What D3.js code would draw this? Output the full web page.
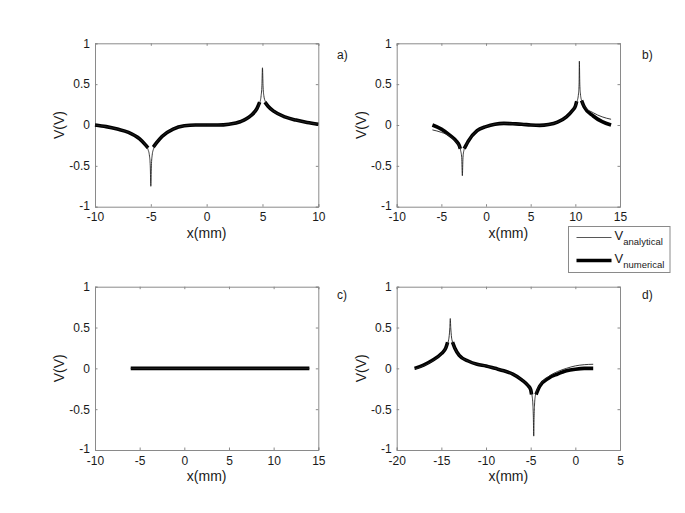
<!DOCTYPE html>
<html>
<head>
<meta charset="utf-8">
<script src="https://cdn.jsdelivr.net/npm/d3@7"></script>
<style>
  body { margin: 0; background: #fff; }
  text { font-family: "Liberation Sans", Arial, sans-serif; fill: #1a1a1a; }
  .domain { stroke: #8a8a8a; }
  .tick line { stroke: #8a8a8a; }
</style>
</head>
<body>
<div id="chart"></div>
<script>
// panel labels and x axis ranges
const panelNames = ["a)", "b)", "c)", "d)"];
const xDomains = [[-10, 10], [-10, 15], [-10, 15], [-20, 5]];
const yTicks = [-1, -0.5, 0, 0.5, 1];
const xTicks = [[-10, -5, 0, 5, 10], [-10, -5, 0, 5, 10, 15], [-10, -5, 0, 5, 10, 15], [-20, -15, -10, -5, 0, 5]];

// analytical potential (x in mm, V in volts)
const anaA = [[-10, 0], [-9, -0.02], [-8, -0.05], [-7, -0.09], [-6, -0.17], [-5.5, -0.24], [-5.25, -0.3], [-5.12, -0.38],
  [-5.05, -0.5], [-5, -0.75], [-4.95, -0.5], [-4.88, -0.37], [-4.75, -0.29], [-4.5, -0.22], [-4, -0.14], [-3, -0.05],
  [-2, -0.01], [-1, 0], [0, 0], [1, 0], [2, 0.01], [3, 0.04], [4, 0.12], [4.5, 0.2], [4.75, 0.27], [4.88, 0.36],
  [4.95, 0.48], [5, 0.7], [5.05, 0.48], [5.12, 0.36], [5.25, 0.29], [5.5, 0.23], [6, 0.17], [7, 0.1], [8, 0.06],
  [9, 0.03], [10, 0.01]];
const numA = [[-10, 0], [-9, -0.02], [-8, -0.05], [-7, -0.09], [-6, -0.17], [-5.5, -0.24], [-5.25, -0.28], null,
  [-4.78, -0.27], [-4.5, -0.22], [-4, -0.14], [-3, -0.05], [-2, -0.01], [-1, 0], [0, 0], [1, 0], [2, 0.01], [3, 0.04],
  [4, 0.12], [4.5, 0.2], [4.75, 0.28], null, [5.22, 0.28], [5.5, 0.23], [6, 0.17], [7, 0.1], [8, 0.06], [9, 0.03], [10, 0.01]];

const anaB = [[-6, -0.06], [-5, -0.09], [-4, -0.14], [-3.3, -0.21], [-3, -0.26], [-2.85, -0.31], [-2.72, -0.4],
  [-2.65, -0.62], [-2.58, -0.4], [-2.45, -0.3], [-2.2, -0.24], [-2, -0.2], [-1, -0.07], [0, -0.02], [1, 0.01], [2, 0.02],
  [3, 0.015], [4, 0.01], [5, 0], [6, -0.005], [7, 0.005], [8, 0.035], [9, 0.1], [9.7, 0.18], [10, 0.23], [10.2, 0.29],
  [10.35, 0.38], [10.42, 0.5], [10.45, 0.78], [10.5, 0.5], [10.57, 0.38], [10.7, 0.3], [11, 0.23], [12, 0.15],
  [13, 0.1], [14, 0.07]];
const numB = [[-6, 0], [-5, -0.05], [-4, -0.13], [-3.3, -0.2], [-3, -0.25], [-2.88, -0.29], null, [-2.45, -0.29],
  [-2.2, -0.24], [-2, -0.2], [-1, -0.07], [0, -0.02], [1, 0.01], [2, 0.02], [3, 0.015], [4, 0.01], [5, 0], [6, -0.005],
  [7, 0.005], [8, 0.035], [9, 0.1], [9.7, 0.18], [10, 0.23], [10.15, 0.29], null, [10.7, 0.3], [11, 0.22], [12, 0.11],
  [13, 0.04], [14, 0]];

const anaC = [[-6, 0], [14, 0]];
const numC = [[-6, 0], [14, 0]];

const anaD = [[-18, -0.01], [-17, 0.03], [-16, 0.09], [-15, 0.18], [-14.5, 0.25], [-14.25, 0.32], [-14.12, 0.4],
  [-14.05, 0.5], [-14, 0.61], [-13.95, 0.5], [-13.88, 0.4], [-13.75, 0.32], [-13.5, 0.25], [-13, 0.16], [-12, 0.09],
  [-11, 0.05], [-10, 0.03], [-9, 0], [-8, -0.03], [-7, -0.07], [-6, -0.14], [-5.3, -0.21], [-5, -0.26], [-4.85, -0.33],
  [-4.75, -0.45], [-4.7, -0.6], [-4.66, -0.83], [-4.62, -0.6], [-4.57, -0.45], [-4.47, -0.33], [-4.3, -0.27],
  [-4, -0.21], [-3, -0.1], [-2, -0.04], [-1, 0], [0, 0.03], [1, 0.045], [2, 0.05]];
const numD = [[-18, 0], [-17, 0.04], [-16, 0.1], [-15, 0.18], [-14.5, 0.25], [-14.3, 0.32], null, [-13.75, 0.32],
  [-13.5, 0.25], [-13, 0.16], [-12, 0.09], [-11, 0.05], [-10, 0.03], [-9, 0], [-8, -0.03], [-7, -0.07], [-6, -0.14],
  [-5.3, -0.21], [-5, -0.26], [-4.9, -0.32], null, [-4.4, -0.32], [-4, -0.22], [-3, -0.12], [-2, -0.07], [-1, -0.03],
  [0, -0.01], [1, 0], [2, 0]];

const analytical = [anaA, anaB, anaC, anaD];
const numerical = [numA, numB, numC, numD];
const legendLabels = [["V", "analytical"], ["V", "numerical"]];

const width = 685, height = 513;
const boxes = [
  {x0: 95, x1: 318.3, y0: 43.3, y1: 206.7, lx: 337, ly: 59},
  {x0: 396.7, x1: 620, y0: 43.3, y1: 206.7, lx: 642, ly: 59},
  {x0: 95, x1: 318.3, y0: 286.7, y1: 450, lx: 337, ly: 299},
  {x0: 396.7, x1: 620, y0: 286.7, y1: 450, lx: 642, ly: 299}
];

const svg = d3.select("#chart").append("svg").attr("width", width).attr("height", height);
const fmt = d => String(d);

boxes.forEach((b, i) => {
  const x = d3.scaleLinear().domain(xDomains[i]).range([b.x0, b.x1]);
  const y = d3.scaleLinear().domain([-1, 1]).range([b.y1, b.y0]);
  const g = svg.append("g");

  g.append("g").attr("transform", `translate(0,${b.y1})`)
    .call(d3.axisBottom(x).tickValues(xTicks[i]).tickSize(-2.5).tickPadding(6).tickFormat(fmt))
    .call(a => a.selectAll("text").attr("font-size", 12));
  g.append("g").attr("transform", `translate(0,${b.y0})`)
    .call(d3.axisTop(x).tickValues(xTicks[i]).tickSize(-2.5).tickFormat(""));
  g.append("g").attr("transform", `translate(${b.x0},0)`)
    .call(d3.axisLeft(y).tickValues(yTicks).tickSize(-2.5).tickPadding(5).tickFormat(fmt))
    .call(a => a.selectAll("text").attr("font-size", 12).attr("dy", d => d === -1 ? "0.2em" : "0.32em"));
  g.append("g").attr("transform", `translate(${b.x1},0)`)
    .call(d3.axisRight(y).tickValues(yTicks).tickSize(-2.5).tickFormat(""));
  g.selectAll(".domain").attr("stroke", "#8a8a8a");

  const line = d3.line().defined(d => d !== null).x(d => x(d[0])).y(d => y(d[1])).curve(d3.curveMonotoneX);
  g.append("path").datum(numerical[i]).attr("d", line)
    .attr("fill", "none").attr("stroke", "#000").attr("stroke-width", 3.6);
  g.append("path").datum(analytical[i]).attr("d", line)
    .attr("fill", "none").attr("stroke", "#222").attr("stroke-width", 0.9);

  g.append("text").attr("x", (b.x0 + b.x1) / 2).attr("y", b.y1 + 31)
    .attr("text-anchor", "middle").attr("font-size", 14).text("x(mm)");
  g.append("text").attr("transform", `translate(${b.x0 - 31},${(b.y0 + b.y1) / 2}) rotate(-90)`)
    .attr("text-anchor", "middle").attr("font-size", 14).text("V(V)");
  g.append("text").attr("x", b.lx).attr("y", b.ly).attr("font-size", 12).text(panelNames[i]);
});

// legend
const leg = svg.append("g").attr("transform", "translate(568.5,226.5)");
leg.append("rect").attr("width", 101.5).attr("height", 46)
  .attr("fill", "#fff").attr("stroke", "#8a8a8a").attr("stroke-width", 1);
legendLabels.forEach((l, k) => {
  const yy = 11 + k * 23;
  leg.append("line").attr("x1", 8).attr("x2", 43).attr("y1", yy).attr("y2", yy)
    .attr("stroke", k ? "#000" : "#444").attr("stroke-width", k ? 3.6 : 0.9);
  const t = leg.append("text").attr("x", 46).attr("y", yy + 2).attr("font-size", 13);
  t.append("tspan").text(l[0]);
  t.append("tspan").attr("dy", 5).attr("font-size", 9.5).text(l[1]);
});
</script>
</body>
</html>
